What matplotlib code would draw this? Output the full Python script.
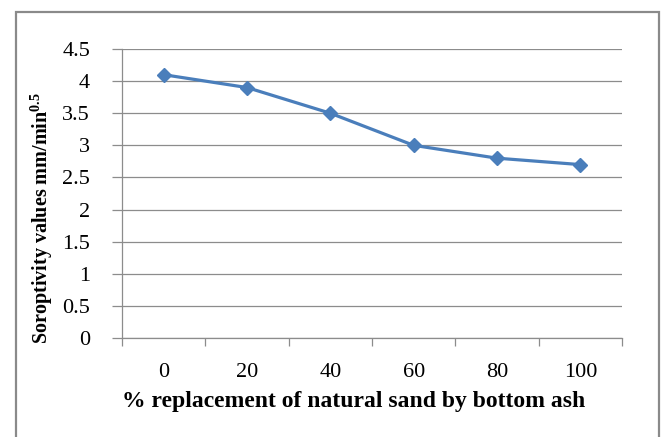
import matplotlib
matplotlib.use("Agg")
import matplotlib.pyplot as plt
from matplotlib.patches import Rectangle
from matplotlib.ticker import FixedLocator, NullFormatter
import numpy as np

# Data
REPLACEMENT = ["0", "20", "40", "60", "80", "100"]
SORPTIVITY = [4.1, 3.9, 3.5, 3.0, 2.8, 2.7]
Y_TICKS = [0, 0.5, 1, 1.5, 2, 2.5, 3, 3.5, 4, 4.5]
Y_TICK_LABELS = ["0", "0.5", "1", "1.5", "2", "2.5", "3", "3.5", "4", "4.5"]

W, H = 666, 437
LINE = "#4A7EBB"
GRID = "#8c8c8c"
FONT = "Liberation Serif"

plt.rcParams["mathtext.fontset"] = "custom"
plt.rcParams["mathtext.bf"] = "Liberation Serif:bold"
plt.rcParams["mathtext.rm"] = "Liberation Serif:bold"

fig = plt.figure(figsize=(W / 100, H / 100), dpi=100)
fig.patch.set_facecolor("white")

# outer chart border (bottom edge runs off the image)
fig.patches.append(Rectangle((16 / W, -0.05), (659 - 16) / W, 1.05 - 12 / H,
                             transform=fig.transFigure, fill=False,
                             edgecolor="#8a8a8a", linewidth=1.6))

ax = fig.add_axes([122 / W, (H - 338) / H, 500 / W, 289 / H])
x = np.arange(len(REPLACEMENT))
ax.plot(x, SORPTIVITY, color=LINE, linewidth=2.3, marker="D", markersize=7,
        markerfacecolor=LINE, markeredgecolor=LINE, zorder=3, clip_on=False)

ax.set_xlim(-0.5, len(REPLACEMENT) - 0.5)
ax.set_ylim(0, 4.5)
ax.set_yticks(Y_TICKS)
ax.set_yticklabels(Y_TICK_LABELS, fontsize=16, family=FONT)
ax.set_xticks(x)
ax.set_xticklabels(REPLACEMENT, fontsize=16, family=FONT)
ax.xaxis.set_minor_locator(FixedLocator(np.arange(-0.5, len(REPLACEMENT), 1.0)))
ax.xaxis.set_minor_formatter(NullFormatter())
ax.tick_params(axis="x", which="major", length=0, pad=18)
ax.tick_params(axis="x", which="minor", length=6, width=0.9, color=GRID, direction="out")
ax.tick_params(axis="y", length=7, width=0.9, color=GRID, direction="out", pad=16)

ax.yaxis.grid(True, color=GRID, linewidth=0.9)
ax.set_axisbelow(True)
for s in ("top", "right"):
    ax.spines[s].set_visible(False)
for s in ("left", "bottom"):
    ax.spines[s].set_color(GRID)
    ax.spines[s].set_linewidth(0.9)

ax.set_xlabel("% replacement of natural sand by bottom ash", fontsize=17,
              fontweight="bold", family=FONT)
ax.xaxis.set_label_coords((354 - 122) / 500, -(402 - 338) / 289)
ax.xaxis.label.set_va("center")
ax.set_ylabel(r"Soroptivity values mm/min$^{\mathbf{0.5}}$", fontsize=14.5,
              fontweight="bold", family=FONT)
ax.yaxis.set_label_coords(-(122 - 55) / 500, (338 - 218) / 289)

fig.savefig("out.png", dpi=100, facecolor="white")
